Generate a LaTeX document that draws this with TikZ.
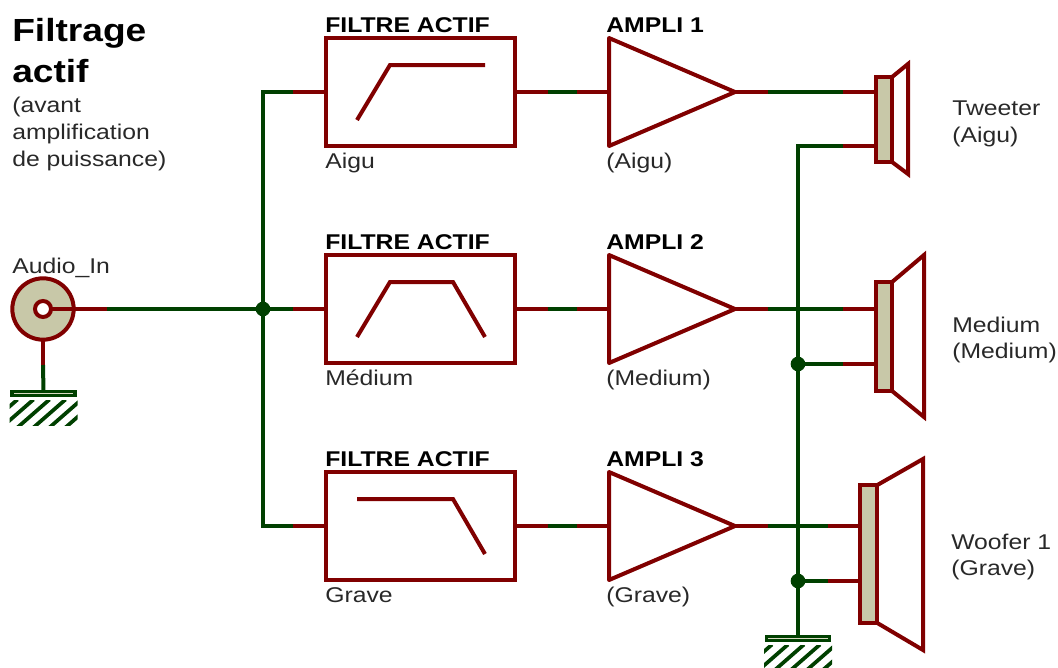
\documentclass[tikz,border=0pt]{standalone}
\usepackage{fontspec}
\setmainfont[FakeStretch=1.16]{Liberation Sans}
\usepackage{xcolor}
\usetikzlibrary{calc, shapes.geometric, positioning}
\definecolor{partred}{RGB}{128, 0, 0}
\definecolor{netgreen}{RGB}{0, 64, 0}
\definecolor{bodytan}{RGB}{200, 200, 168}
\definecolor{txtgray}{RGB}{40, 40, 40}
\tikzset{
    partline/.style = {draw=partred, line width=3pt, line join=miter},
    pinwire/.style = {partred, line width=3pt},
    netwire/.style = {netgreen, line width=3pt},
    filterbox/.style = {partline, rectangle, inner sep=0pt, outer sep=0pt, minimum width=141.75pt, minimum height=81pt},
    amplinode/.style = {partline, line join=round, isosceles triangle, isosceles triangle stretches, shape border rotate=0,
      inner sep=0pt, outer sep=0pt, minimum width=81pt, minimum height=94.5pt},
    speakernode/.style = {partline, fill=bodytan, rectangle, inner sep=0pt, outer sep=0pt},
    dotnode/.style = {fill=netgreen, circle, inner sep=0pt, minimum size=11pt},
    groundnode/.style = {draw=netgreen, line width=2.6pt, fill=bodytan!70!white, rectangle, inner sep=0pt, outer sep=0pt,
      minimum width=47pt, minimum height=3.2pt},
    textnode/.style = {inner sep=0pt, anchor=base west, text=txtgray, font=\fontsize{16}{20.25}\selectfont, align=left},
    titlenode/.style = {inner sep=0pt, anchor=base west, text=black, font=\fontsize{16}{20.25}\selectfont\bfseries},
    bigtitlenode/.style = {inner sep=0pt, anchor=base west, text=black, font=\fontsize{24}{31.5}\selectfont\bfseries}
}
\newcommand{\gndhatch}[1]{
  \begin{scope}
    \clip ($(#1)+(-34,7)$) rectangle ($(#1)+(34,32)$);
    \foreach \hx in {-26,-10,6,22,38,54}
      \draw[netgreen, line width=2.8pt] ($(#1)+(\hx,6)$) -- ++(-32,28);
  \end{scope}
}
\begin{document}
\begin{tikzpicture}[x=0.75pt, y=-0.75pt]
\useasboundingbox (0,0) rectangle (1058,668);

% filters
\node[filterbox, name=filtA] at (420.5,92) {};
\node[filterbox, name=filtB, below=81.75pt of filtA] {};
\node[filterbox, name=filtC, below=81.75pt of filtB] {};
\draw[pinwire, line join=miter] (357,120) -- (390,65) -- (485,65);
\draw[pinwire, line join=miter] (357,337) -- (390,282) -- (453,282) -- (485,337);
\draw[pinwire, line join=miter] (357,499) -- (453,499) -- (485,554);

% amplis
\node[amplinode, name=ampA, right=70.5pt of filtA] {};
\node[amplinode, name=ampB, right=70.5pt of filtB] {};
\node[amplinode, name=ampC, right=70.5pt of filtC] {};

% speakers
\node[speakernode, name=spkA, minimum width=12.4pt, minimum height=64pt] at (884,119.5) {};
\node[speakernode, name=spkB, minimum width=12.4pt, minimum height=82pt] at (884,336.5) {};
\node[speakernode, name=spkC, minimum width=12.4pt, minimum height=103pt] at (868.5,554) {};
\draw[partline] (spkA.north east) -- (908,64) -- (908,174) -- (spkA.south east);
\draw[partline] (spkB.north east) -- (924,255) -- (924,417) -- (spkB.south east);
\draw[partline] (spkC.north east) -- (923,459) -- (923,650) -- (spkC.south east);

% audio input
\node[circle, partline, fill=bodytan, minimum size=46pt, inner sep=0pt, outer sep=0pt, name=jack] at (43,309) {};
\node[circle, partline, fill=white, minimum size=12pt, inner sep=0pt, outer sep=0pt, name=jackcore] at (jack.center) {};
\node[groundnode, name=gndIn] at (43.5,393.5) {};
\node[groundnode, name=gndOut] at (798,638.5) {};
\gndhatch{gndIn}
\gndhatch{gndOut}

% wire points
\coordinate (inWire) at (107,309);
\coordinate (busTop) at (263,92);
\coordinate (busMid) at (263,309);
\coordinate (busLow) at (263,526);
\coordinate (retTop) at (798,146);
\coordinate (retMid) at (798,364);
\coordinate (retLow) at (798,581);

\draw[pinwire] (jackcore.east) -- (inWire);
\draw[netwire] (inWire) -- (busMid);
\draw[pinwire] (jack.south) -- (43,365);
\draw[netwire] (43,365) -- (gndIn.north);
\draw[netwire, line join=miter] (293,92) -- (busTop) -- (busLow) -- (293,526);
\draw[netwire] (busMid) -- (293,309);
\draw[pinwire] (293,92) -- (filtA.west);
\draw[pinwire] (293,309) -- (filtB.west);
\draw[pinwire] (293,526) -- (filtC.west);

\draw[pinwire] (filtA.east) -- (ampA.west);
\draw[pinwire] (filtB.east) -- (ampB.west);
\draw[pinwire] (filtC.east) -- (ampC.west);
\draw[netwire] (548,92) -- (577,92);
\draw[netwire] (548,309) -- (577,309);
\draw[netwire] (548,526) -- (577,526);

\draw[pinwire] (ampA.apex) -- (875,92);
\draw[pinwire] (ampB.apex) -- (875,309);
\draw[pinwire] (ampC.apex) -- (859,526);
\draw[netwire] (768,92) -- (843,92);
\draw[netwire] (768,309) -- (843,309);
\draw[netwire] (768,526) -- (828,526);

\draw[netwire, line join=miter] (843,146) -- (retTop) -- (gndOut.north);
\draw[pinwire] (843,146) -- (875,146);
\draw[netwire] (retMid) -- (843,364);
\draw[pinwire] (843,364) -- (875,364);
\draw[netwire] (retLow) -- (828,581);
\draw[pinwire] (828,581) -- (859,581);

\node[dotnode, name=dotBus] at (busMid) {};
\node[dotnode, name=dotMid] at (retMid) {};
\node[dotnode, name=dotLow] at (retLow) {};

% labels
\node[bigtitlenode, name=titleA] at (12,41) {Filtrage};
\node[bigtitlenode, name=titleB] at (12,82) {actif};
\node[textnode, name=noteA] at (12,112) {(avant};
\node[textnode, name=noteB] at (12,139) {amplification};
\node[textnode, name=noteC] at (12,166) {de puissance)};
\node[textnode, name=audio] at (12,273) {Audio\_In};

\node[titlenode, name=capA] at (325,32) {FILTRE ACTIF};
\node[titlenode, name=capB] at (325,249) {FILTRE ACTIF};
\node[titlenode, name=capC] at (325,466) {FILTRE ACTIF};
\node[textnode, name=subA] at (325,168) {Aigu};
\node[textnode, name=subB] at (325,385) {Médium};
\node[textnode, name=subC] at (325,602) {Grave};

\node[titlenode, name=ampcapA] at (606,32) {AMPLI 1};
\node[titlenode, name=ampcapB] at (606,249) {AMPLI 2};
\node[titlenode, name=ampcapC] at (606,466) {AMPLI 3};
\node[textnode, name=ampsubA] at (606,168) {(Aigu)};
\node[textnode, name=ampsubB] at (606,385) {(Medium)};
\node[textnode, name=ampsubC] at (606,602) {(Grave)};

\node[textnode, name=tweeter] at (952,115) {Tweeter};
\node[textnode, name=tweeterB] at (952,142) {(Aigu)};
\node[textnode, name=medium] at (952,332) {Medium};
\node[textnode, name=mediumB] at (952,358) {(Medium)};
\node[textnode, name=woofer] at (951,549) {Woofer 1};
\node[textnode, name=wooferB] at (951,575) {(Grave)};
\end{tikzpicture}
\end{document}
